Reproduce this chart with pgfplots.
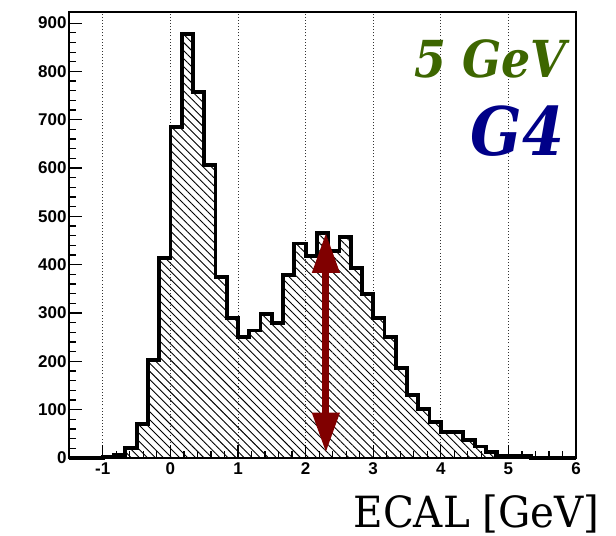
\documentclass[border=0pt]{standalone}
\usepackage{fontspec}
\setmainfont{Liberation Sans}
\newfontfamily\dvs{DejaVu Serif}[FakeStretch=0.94]
\newfontfamily\dvsc{DejaVu Serif}[FakeStretch=0.9]
\usepackage{pgfplots}
\pgfplotsset{compat=1.18}
\usepackage{pgfplotstable}
\usetikzlibrary{arrows.meta,patterns.meta}
\definecolor{gevgreen}{RGB}{61,102,0}
\definecolor{gfourblue}{RGB}{0,0,136}
\definecolor{arrowred}{RGB}{128,0,0}
\pgfplotstableread{
x y
-1.5 0
-1.3333 0
-1.1667 0
-1.0 2
-0.8333 6
-0.6667 20
-0.5 70
-0.3333 203
-0.1667 414
0.0 685
0.1667 878
0.3333 757
0.5 606
0.6667 374
0.8333 290
1.0 251
1.1667 264
1.3333 298
1.5 280
1.6667 378
1.8333 444
2.0 418
2.1667 465
2.3333 428
2.5 458
2.6667 394
2.8333 340
3.0 290
3.1667 250
3.3333 187
3.5 130
3.6667 101
3.8333 74
4.0 54
4.1667 54
4.3333 37
4.5 24
4.6667 13
4.8333 4
5.0 4
5.1667 4
5.3333 0
5.5 0
5.6667 0
5.8333 0
6.0 0
}\ecal
\begin{document}
\begin{tikzpicture}
\useasboundingbox (-69bp,-78bp) rectangle (547bp,458bp);
\begin{axis}[
  scale only axis,
  width=507bp, height=446bp,
  xmin=-1.5, xmax=6, ymin=0, ymax=923,
  xtick={-1,0,...,6}, ytick={0,100,...,900},
  minor x tick num=4, minor y tick num=4,
  tick align=inside,
  xtick pos=bottom, ytick pos=left,
  major tick length=13bp, minor tick length=7bp,
  every tick/.style={black, line width=1.2bp},
  axis line style={black, line width=1.6bp},
  xmajorgrids,
  major grid style={black!80, line width=0.9bp, dash pattern=on 0.9bp off 2.2bp},
  /pgf/number format/assume math mode=true,
  ticklabel style={font=\bfseries\fontsize{17bp}{17bp}\selectfont},
  xticklabel style={yshift=-1bp},
  yticklabel style={xshift=1bp},
  clip=false,
]
\addplot[const plot mark left, draw=none, pattern={Lines[angle=-45,distance=5.7bp,line width=0.9bp]}, pattern color=black] table {\ecal} \closedcycle;
\addplot[const plot mark left, black, line width=3.8bp, line join=miter] table {\ecal};
\addplot[arrowred, line width=7bp, {Triangle[length=40bp,width=26bp]}-{Triangle[length=40bp,width=26bp]}] coordinates {(2.3,11) (2.3,466)};
\node[anchor=base east, text=gevgreen, font=\dvsc\bfseries\itshape\fontsize{51bp}{51bp}\selectfont, inner sep=0pt] at (axis cs:5.86,788) {5 GeV};
\node[anchor=base east, text=gfourblue, font=\dvsc\bfseries\itshape\fontsize{67bp}{67bp}\selectfont, inner sep=0pt] at (axis cs:5.83,625) {G4};
\node[anchor=base east, font=\dvs\fontsize{43bp}{43bp}\selectfont, inner sep=0pt] at (rel axis cs:1,0) [xshift=24bp, yshift=-69bp] {ECAL [GeV]};
\end{axis}
\end{tikzpicture}
\end{document}
